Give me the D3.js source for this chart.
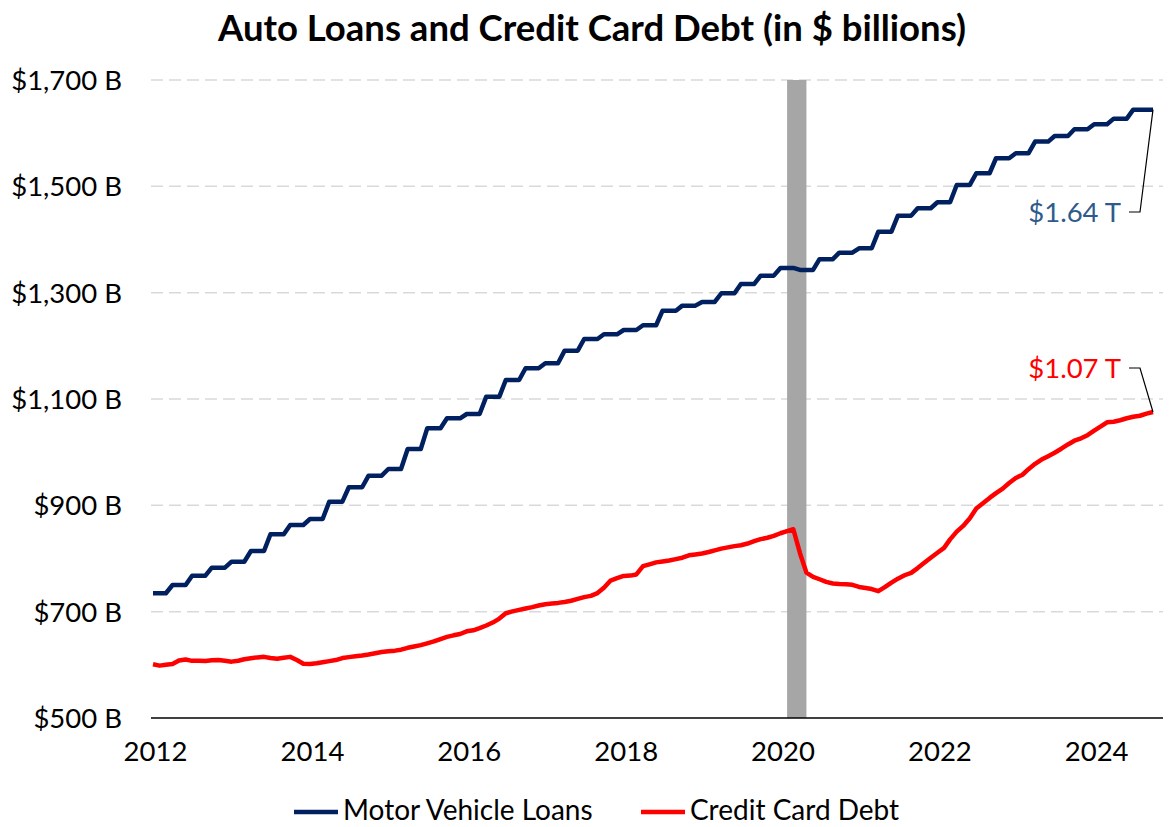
<!DOCTYPE html>
<html>
<head>
<meta charset="utf-8">
<script src="https://cdn.jsdelivr.net/npm/d3@7"></script>
<style>
  body { margin: 0; background: #fff; }
  text { font-family: Lato, "Noto Sans", sans-serif; }
</style>
</head>
<body>
<svg id="chart" width="1169" height="827"></svg>
<script>
// quarterly motor vehicle loans, $ billions (Q1 2012 .. Q4 2024)
var autoQuarterly = [
  734.6, 750.2, 767.7, 782.7,
  794.0, 814.1, 845.5, 863.0,
  874.3, 906.9, 934.0, 955.8,
  968.4, 1006.0, 1044.9, 1063.7,
  1071.8, 1104.4, 1135.8, 1157.8,
  1167.2, 1190.9, 1212.9, 1221.7,
  1229.8, 1238.7, 1266.1, 1275.6,
  1282.5, 1298.9, 1316.4, 1332.0,
  1346.5, 1342.7, 1363.0, 1375.3,
  1383.5, 1414.8, 1444.9, 1458.8,
  1470.0, 1502.6, 1524.6, 1552.8,
  1562.2, 1584.1, 1594.7, 1607.3,
  1616.7, 1627.3, 1644.2, 1644.2
];

// monthly credit card debt, $ billions (Jan 2012 .. Oct 2024)
var cardMonthly = [
  601, 598.5, 600, 601.5, 608, 610, 607.5, 607.5, 607.2, 608.5, 609, 607.5,
  606, 607.7, 610.5, 612.5, 614, 615, 613, 611.5, 613.5, 615, 609, 602,
  601.5, 603, 605, 607, 609, 612.7, 614.5, 616, 617.6, 619.5, 621.8, 624,
  625.5, 626.7, 628.5, 632, 634.5, 637, 640.5, 644, 648.5, 652.5, 655.5, 658,
  663, 665, 669, 674, 679.5, 687, 697, 700.5, 703.3, 706, 708.5, 711.5,
  714, 715.2, 716.5, 718.3, 720.5, 724, 727.4, 729.7, 735, 745, 758.6, 763,
  767.2, 767.8, 770, 785.5, 789, 792.7, 794.3, 796.2, 798.8, 801.5, 806, 807.6,
  809.5, 812.2, 815.4, 818.6, 821, 823.3, 825, 828.2, 832.5, 836.5, 839, 842.5,
  847.5, 851.5, 855, 810, 773.5, 765.5, 761, 756, 753, 752, 751.7, 750.5,
  746.5, 744.5, 742.6, 738.5, 746, 754.5, 762, 768.5, 773, 782, 792, 801.5,
  810.7, 820, 836, 850.5, 861.3, 875.6, 894, 904, 914, 923, 931.5, 942,
  951.5, 957.5, 968, 978, 986, 992.5, 999, 1006.5, 1014.5, 1021.5, 1026, 1032,
  1040.5, 1048.4, 1056.2, 1057.2, 1060, 1063.8, 1066.5, 1068.5, 1072.5, 1075.5
];

var yTicks = [500, 700, 900, 1100, 1300, 1500, 1700];
var xTickYears = [2012, 2014, 2016, 2018, 2020, 2022, 2024];
var recession = [new Date(2020, 1, 1), new Date(2020, 4, 1)];
var seriesNames = ["Motor Vehicle Loans", "Credit Card Debt"];
var endLabels = ["$1.64 T", "$1.07 T"];

var months = d3.timeMonth.range(new Date(2012, 0, 1), new Date(2024, 10, 1));
var autoData = months.map(function(d, i) { return { date: d, value: autoQuarterly[Math.floor(i / 3)] }; });
var cardData = months.map(function(d, i) { return { date: d, value: cardMonthly[i] }; });

var navy = "#002060", red = "#ff0000";
var plotLeft = 151, plotRight = 1163;

var svg = d3.select("#chart");

var x = d3.scaleTime()
    .domain([months[0], months[months.length - 1]])
    .range([153, 1153]);
var y = d3.scaleLinear()
    .domain([500, 1700])
    .range([718, 80]);

// title
svg.append("text")
    .attr("x", 592)
    .attr("y", 41)
    .attr("text-anchor", "middle")
    .style("font-size", "36.5px")
    .style("font-weight", "bold")
    .text("Auto Loans and Credit Card Debt (in $ billions)");

// grid
svg.append("g").selectAll("line")
    .data(yTicks.slice(1))
    .enter()
    .append("line")
    .attr("x1", plotLeft)
    .attr("x2", plotRight)
    .attr("y1", function(d) { return y(d); })
    .attr("y2", function(d) { return y(d); })
    .attr("stroke", "#d9d9d9")
    .attr("stroke-width", 1.5)
    .attr("stroke-dasharray", "12,6");

// recession band
svg.append("rect")
    .attr("x", x(recession[0]))
    .attr("width", x(recession[1]) - x(recession[0]))
    .attr("y", y(1700))
    .attr("height", y(500) - y(1700))
    .attr("fill", "#a6a6a6");

// y axis labels
var yAxis = d3.axisLeft(y)
    .tickValues(yTicks)
    .tickSize(0)
    .tickPadding(0)
    .tickFormat(function(d) { return "$" + d3.format(",")(d) + " B"; });
var gy = svg.append("g").attr("transform", "translate(122,0)").call(yAxis);
gy.select(".domain").remove();
gy.selectAll("text")
    .style("font-size", "27.5px")
    .style("font-family", "Lato, sans-serif")
    .attr("fill", "#000")
    .attr("dy", "0.35em");

// x axis labels
var xAxis = d3.axisBottom(x)
    .tickValues(xTickYears.map(function(yr) { return new Date(yr, 0, 1); }))
    .tickSize(0)
    .tickPadding(0)
    .tickFormat(d3.timeFormat("%Y"));
var gx = svg.append("g").attr("transform", "translate(2,740)").call(xAxis);
gx.select(".domain").remove();
gx.selectAll("text")
    .style("font-size", "27.5px")
    .style("font-family", "Lato, sans-serif")
    .attr("fill", "#000")
    .attr("dy", "0.75em");

// lines
var line = d3.line()
    .x(function(d) { return x(d.date); })
    .y(function(d) { return y(d.value); });

svg.append("path")
    .datum(cardData)
    .attr("d", line)
    .attr("fill", "none")
    .attr("stroke", red)
    .attr("stroke-width", 4.5)
    .attr("stroke-linejoin", "round");

svg.append("path")
    .datum(autoData)
    .attr("d", line)
    .attr("fill", "none")
    .attr("stroke", navy)
    .attr("stroke-width", 4.5)
    .attr("stroke-linejoin", "round");

// baseline
svg.append("line")
    .attr("x1", plotLeft)
    .attr("x2", plotRight)
    .attr("y1", y(500))
    .attr("y2", y(500))
    .attr("stroke", "#000")
    .attr("stroke-width", 1.3);

// end labels with leader lines
var lastAuto = autoData[autoData.length - 1];
var lastCard = cardData[cardData.length - 1];
var labelInfo = [
  { pt: lastAuto, text: endLabels[0], color: "#2f5b8c", ly: 212 },
  { pt: lastCard, text: endLabels[1], color: red, ly: 368 }
];
labelInfo.forEach(function(l) {
  svg.append("path")
      .attr("d", "M" + x(l.pt.date) + "," + y(l.pt.value) + "L1140," + l.ly + "L1129," + l.ly)
      .attr("fill", "none")
      .attr("stroke", "#000")
      .attr("stroke-width", 1.2);
  svg.append("text")
      .attr("x", 1121)
      .attr("y", l.ly)
      .attr("dy", "0.35em")
      .attr("text-anchor", "end")
      .attr("fill", l.color)
      .style("font-size", "27.5px")
      .text(l.text);
});

// legend
var legend = svg.append("g");
var legendItems = [
  { name: seriesNames[0], color: navy, x: 294 },
  { name: seriesNames[1], color: red, x: 641 }
];
legendItems.forEach(function(item) {
  legend.append("line")
      .attr("x1", item.x)
      .attr("x2", item.x + 44)
      .attr("y1", 812)
      .attr("y2", 812)
      .attr("stroke", item.color)
      .attr("stroke-width", 4.5);
  legend.append("text")
      .attr("x", item.x + 49)
      .attr("y", 810)
      .attr("dy", "0.35em")
      .style("font-size", "28px")
      .text(item.name);
});
</script>
</body>
</html>
